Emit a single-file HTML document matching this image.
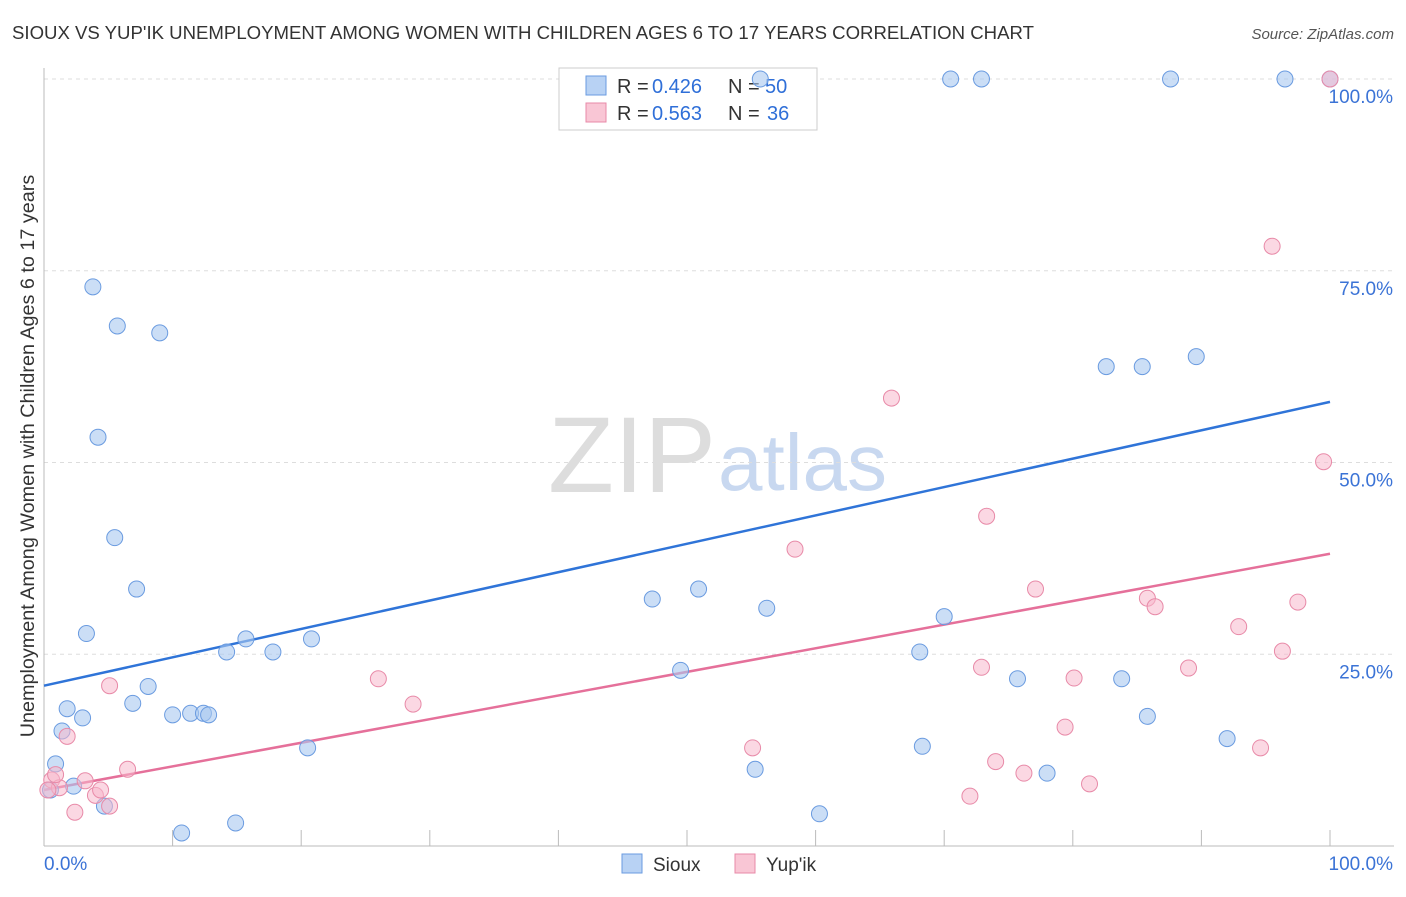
<!DOCTYPE html>
<html><head><meta charset="utf-8"><style>
body{margin:0;background:#fff;font-family:"Liberation Sans",sans-serif;}
svg text{font-family:"Liberation Sans",sans-serif;}
</style></head><body>
<svg id="chart" width="1406" height="892">
<text x="12" y="39" font-size="18.6" fill="#333">SIOUX VS YUP'IK UNEMPLOYMENT AMONG WOMEN WITH CHILDREN AGES 6 TO 17 YEARS CORRELATION CHART</text>
<text x="1394" y="39" font-size="15" fill="#555" text-anchor="end" font-style="italic">Source: ZipAtlas.com</text>
<text x="0" y="0" transform="translate(34,456) rotate(-90)" font-size="19.8" fill="#333" text-anchor="middle">Unemployment Among Women with Children Ages 6 to 17 years</text>
<text x="716" y="492" font-size="108" fill="#ddd" text-anchor="end" font-family="Liberation Serif">ZIP</text>
<text x="718" y="490" font-size="80" fill="#c8d8f0">atlas</text>
<g id="grid"></g><g id="axes"></g>
<g>
<rect x="559" y="68" width="258" height="62" fill="#fff" stroke="#ccc"/>
<rect x="586" y="76" width="20" height="19" fill="#b8d2f4" stroke="#6a9be0"/>
<text x="617" y="93" font-size="20" fill="#333">R =</text>
<text x="652" y="93" font-size="20" fill="#2f6fd8">0.426</text>
<text x="728" y="93" font-size="20" fill="#333">N =</text>
<text x="765" y="93" font-size="20" fill="#2f6fd8">50</text>
<rect x="586" y="103" width="20" height="19" fill="#f9c6d5" stroke="#e88aa8"/>
<text x="617" y="120" font-size="20" fill="#333">R =</text>
<text x="652" y="120" font-size="20" fill="#2f6fd8">0.563</text>
<text x="728" y="120" font-size="20" fill="#333">N =</text>
<text x="767" y="120" font-size="20" fill="#2f6fd8">36</text>
</g>
<g id="trend"></g><g id="pts"></g>
<g>
<rect x="622" y="854" width="20" height="19" fill="#b8d2f4" stroke="#6a9be0"/>
<text x="653" y="871" font-size="19" fill="#333">Sioux</text>
<rect x="735" y="854" width="20" height="19" fill="#f9c6d5" stroke="#e88aa8"/>
<text x="766" y="871" font-size="19" fill="#333">Yup'ik</text>
</g>
</svg>
<script>
const siouxX=[3.8,5.7,9.0,4.2,5.5,7.2,3.3,8.1,6.9,1.8,3.0,1.4,0.9,2.3,4.7,10.7,14.9,10.0,11.4,12.4,12.8,14.2,15.7,17.8,20.8,20.5,47.3,50.9,49.5,56.2,55.3,60.3,55.7,70.5,72.9,87.6,96.5,100,70.0,68.1,68.3,75.7,78.0,82.6,85.4,89.6,83.8,85.8,92.0,0.5];
const siouxY=[72.9,67.8,66.9,53.3,40.2,33.5,27.7,20.8,18.6,17.9,16.7,15.0,10.7,7.8,5.2,1.7,3.0,17.1,17.3,17.3,17.1,25.3,27.0,25.3,27.0,12.8,32.2,33.5,22.9,31.0,10.0,4.2,100,100,100,100,100,100,29.9,25.3,13.0,21.8,9.5,62.5,62.5,63.8,21.8,16.9,14.0,7.3];
const yupikX=[0.6,1.2,1.8,2.4,3.2,4.0,4.4,5.1,5.1,6.5,26.0,28.7,55.1,58.4,65.9,72.0,72.9,73.3,74.0,76.2,77.1,79.4,80.1,81.3,85.8,86.4,89.0,92.9,94.6,96.3,97.5,95.5,99.5,100,0.3,0.9];
const yupikY=[8.6,7.6,14.3,4.4,8.5,6.6,7.3,5.2,20.9,10.0,21.8,18.5,12.8,38.7,58.4,6.5,23.3,43.0,11.0,9.5,33.5,15.5,21.9,8.1,32.3,31.2,23.2,28.6,12.8,25.4,31.8,78.2,50.1,100,7.3,9.3];
const siouxTrend=[20.9,57.9];
const yupikTrend=[7.3,38.1];
const yTicks=[25,50,75,100];
const yTickLabels=["25.0%","50.0%","75.0%","100.0%"];
const xTicks=[0,10,20,30,40,50,60,70,80,90,100];

const NS="http://www.w3.org/2000/svg";
const sx=v=>44+v*12.86, sy=v=>846-v*7.67;
function mk(tag,attrs,parent){const e=document.createElementNS(NS,tag);for(const k in attrs)e.setAttribute(k,attrs[k]);document.getElementById(parent).appendChild(e);return e;}
yTicks.forEach((t,i)=>{
 const g=mk('line',{x1:44,x2:1394,y1:sy(t),y2:sy(t),stroke:'#ddd','stroke-dasharray':'4,4'},'grid');
 
 
 const l=mk('text',{x:1393,y:sy(t)+24,'font-size':19,fill:'#3b73d6','text-anchor':'end'},'grid');
 l.textContent=yTickLabels[i];
 
 
});
let a=mk('line',{x1:44,x2:44,y1:68,y2:846,stroke:'#bbb'},'axes');


a=mk('line',{x1:44,x2:1394,y1:846,y2:846,stroke:'#bbb'},'axes');


xTicks.forEach(t=>{
 const k=mk('line',{x1:sx(t),x2:sx(t),y1:830,y2:846,stroke:'#bbb'},'axes');
 
 
});
let xl=mk('text',{x:44,y:870,'font-size':19,fill:'#3b73d6'},'axes');xl.textContent='0.0%';


xl=mk('text',{x:1393,y:870,'font-size':19,fill:'#3b73d6','text-anchor':'end'},'axes');xl.textContent='100.0%';


let tl=mk('line',{x1:sx(0),x2:sx(100),y1:sy(siouxTrend[0]),y2:sy(siouxTrend[1]),stroke:'#2f74d8','stroke-width':2.5},'trend');


tl=mk('line',{x1:sx(0),x2:sx(100),y1:sy(yupikTrend[0]),y2:sy(yupikTrend[1]),stroke:'#e5709a','stroke-width':2.5},'trend');


siouxX.forEach((x,i)=>{
 const c=mk('circle',{cx:sx(x),cy:sy(siouxY[i]),r:8,fill:'rgba(168,200,240,0.6)',stroke:'#6a9be0','stroke-width':1},'pts');
 
 
});
yupikX.forEach((x,i)=>{
 const c=mk('circle',{cx:sx(x),cy:sy(yupikY[i]),r:8,fill:'rgba(248,184,204,0.55)',stroke:'#e88aa8','stroke-width':1},'pts');
 
 
});
</script>
</body></html>
